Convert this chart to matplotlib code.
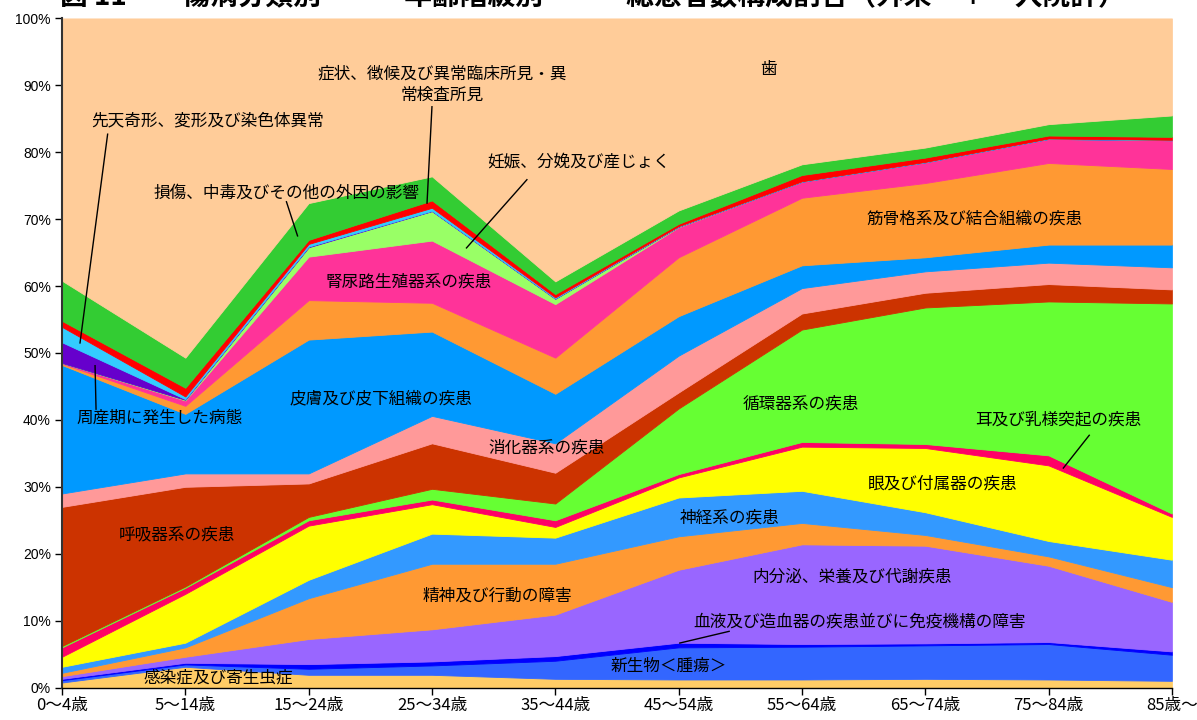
import numpy as np
import matplotlib
matplotlib.use("Agg")
import matplotlib.pyplot as plt
from matplotlib.ticker import FuncFormatter

plt.rcParams['font.family'] = ['Noto Sans CJK JP', 'DejaVu Sans']

# age groups
ages = ['0〜4歳', '5〜14歳', '15〜24歳', '25〜34歳', '35〜44歳',
        '45〜54歳', '55〜64歳', '65〜74歳', '75〜84歳', '85歳〜']

# share of patients (%) per disease group, bottom layer first
kansen    = [0.75, 3.1, 1.9, 1.9, 1.3, 1.2, 1.2, 1.3, 1.2, 1.0]
shinsei   = [0.35, 0.35, 0.9, 1.4, 2.7, 4.8, 4.9, 5.0, 5.3, 3.9]
ketsueki  = [0.2, 0.25, 0.7, 0.6, 0.7, 0.7, 0.4, 0.3, 0.3, 0.5]
naibunpi  = [0.4, 0.9, 3.75, 4.8, 6.2, 10.9, 14.9, 14.6, 11.4, 7.4]
seishin   = [0.5, 1.4, 6.1, 9.8, 7.6, 5.0, 3.2, 1.6, 1.4, 2.2]
shinkei   = [0.9, 0.7, 2.75, 4.5, 3.9, 5.8, 4.8, 3.4, 2.3, 4.1]
me        = [1.5, 7.3, 8.1, 4.4, 1.6, 3.0, 6.6, 9.6, 11.3, 6.4]
mimi      = [1.4, 0.9, 0.8, 0.7, 1.0, 0.5, 0.7, 0.6, 1.5, 0.5]
junkan    = [0.2, 0.2, 0.5, 1.6, 2.5, 9.8, 16.8, 20.4, 23.0, 31.4]
kokyu     = [20.8, 14.9, 5.0, 6.8, 4.6, 2.4, 2.4, 2.2, 2.6, 2.1]
shoka     = [2.0, 2.0, 1.5, 4.1, 4.4, 5.5, 3.8, 3.2, 3.2, 3.3]
hifu      = [19.2, 8.9, 20.0, 12.6, 7.4, 5.9, 3.4, 2.1, 2.7, 3.4]
kinkotsu  = [0.2, 1.2, 5.9, 4.3, 5.4, 8.8, 10.1, 11.1, 12.2, 11.3]
jinnyoro  = [0.1, 0.8, 6.5, 9.3, 8.0, 4.5, 2.4, 3.1, 3.6, 4.3]
ninshin   = [0.0, 0.1, 1.4, 4.4, 0.8, 0.05, 0.0, 0.0, 0.0, 0.0]
shusanki  = [3.1, 0.1, 0.1, 0.05, 0.05, 0.05, 0.0, 0.0, 0.0, 0.0]
sentenn   = [2.3, 0.4, 0.4, 0.45, 0.15, 0.05, 0.05, 0.05, 0.05, 0.05]
shojo     = [0.9, 1.3, 0.6, 1.1, 0.5, 0.35, 0.95, 0.65, 0.45, 0.45]
sonsho    = [6.0, 4.5, 5.5, 3.6, 1.9, 2.0, 1.6, 1.5, 1.7, 3.2]
ha        = [39.2, 50.7, 27.6, 23.6, 39.3, 28.7, 21.8, 19.3, 15.8, 14.5]

series = [kansen, shinsei, ketsueki, naibunpi, seishin, shinkei, me, mimi,
          junkan, kokyu, shoka, hifu, kinkotsu, jinnyoro, ninshin, shusanki,
          sentenn, shojo, sonsho, ha]
colors = ['#FFCC66', '#3366FF', '#0000FF', '#9966FF', '#FF9933', '#3399FF',
          '#FFFF00', '#FF0066', '#66FF33', '#CC3300', '#FF9999', '#0099FF',
          '#FF9933', '#FF3399', '#99FF66', '#6600CC', '#33CCFF', '#FF0000',
          '#33CC33', '#FFCC99']

fig = plt.figure(figsize=(11.97, 7.2), dpi=100)
ax = fig.add_axes([0.0518, 0.0451, 0.9272, 0.9293])

x = np.arange(len(ages))
polys = ax.stackplot(x, np.array(series), colors=colors)
for p, c in zip(polys, colors):
    p.set_edgecolor(c)
    p.set_linewidth(0.6)

ax.set_xlim(0, len(ages) - 1)
ax.set_ylim(0, 100)
ax.set_yticks(np.arange(0, 101, 10))
ax.yaxis.set_major_formatter(FuncFormatter(lambda v, pos: '%d%%' % v))
ax.set_xticks(x)
ax.set_xticklabels(ages, fontsize=12)
for t in ax.get_yticklabels():
    t.set_fontfamily('Liberation Sans')
    t.set_fontsize(10)
ax.tick_params(axis='y', length=5, width=1, pad=3, colors='black')
ax.tick_params(axis='x', length=5, width=1, pad=2)
ax.spines['top'].set_visible(False)
ax.spines['right'].set_visible(False)
ax.spines['left'].set_color('#333333')
ax.spines['left'].set_linewidth(1.5)
ax.spines['bottom'].set_linewidth(1.0)

# area labels
fs = 12
labels = [
    ('歯', 5.73, 92.3),
    ('症状、徴候及び異常臨床所見・異\n常検査所見', 3.08, 90.1),
    ('先天奇形、変形及び染色体異常', 1.18, 84.7),
    ('損傷、中毒及びその他の外因の影響', 1.82, 73.9),
    ('妊娠、分娩及び産じょく', 4.19, 78.6),
    ('腎尿路生殖器系の疾患', 2.81, 60.6),
    ('皮膚及び皮下組織の疾患', 2.59, 43.1),
    ('周産期に発生した病態', 0.795, 40.3),
    ('消化器系の疾患', 3.93, 35.8),
    ('呼吸器系の疾患', 0.93, 22.8),
    ('循環器系の疾患', 5.99, 42.4),
    ('筋骨格系及び結合組織の疾患', 7.40, 70.0),
    ('耳及び乳様突起の疾患', 8.08, 40.0),
    ('眼及び付属器の疾患', 7.14, 30.4),
    ('神経系の疾患', 5.41, 25.3),
    ('精神及び行動の障害', 3.53, 13.7),
    ('内分泌、栄養及び代謝疾患', 6.41, 16.5),
    ('血液及び造血器の疾患並びに免疫機構の障害', 6.47, 9.8),
    ('新生物＜腫瘍＞', 4.92, 3.2),
    ('感染症及び寄生虫症', 1.27, 1.4),
]
for txt, lx, ly in labels:
    ax.text(lx, ly, txt, fontsize=fs, ha='center', va='center',
            linespacing=1.3)

# leader lines
leaders = [
    ((3.00, 86.8), (2.96, 72.4)),
    ((0.37, 82.7), (0.146, 51.5)),
    ((1.82, 72.6), (1.91, 67.5)),
    ((3.77, 75.9), (3.28, 65.7)),
    ((0.276, 41.6), (0.268, 48.1)),
    ((8.33, 37.7), (8.12, 32.8)),
    ((5.41, 8.4), (5.01, 6.65)),
]
for (x0, y0), (x1, y1) in leaders:
    ax.plot([x0, x1], [y0, y1], color='black', lw=1)

# title (cut off at the top in the original)
fig.text(60 / 1197, 1 - 10 / 720,
         '図 11　　傷病分類別　－　年齢階級別　－　総患者数構成割合（外来　＋　入院計）',
         fontsize=20, fontweight='bold', ha='left', va='bottom')

fig.savefig('out.png', dpi=100)
